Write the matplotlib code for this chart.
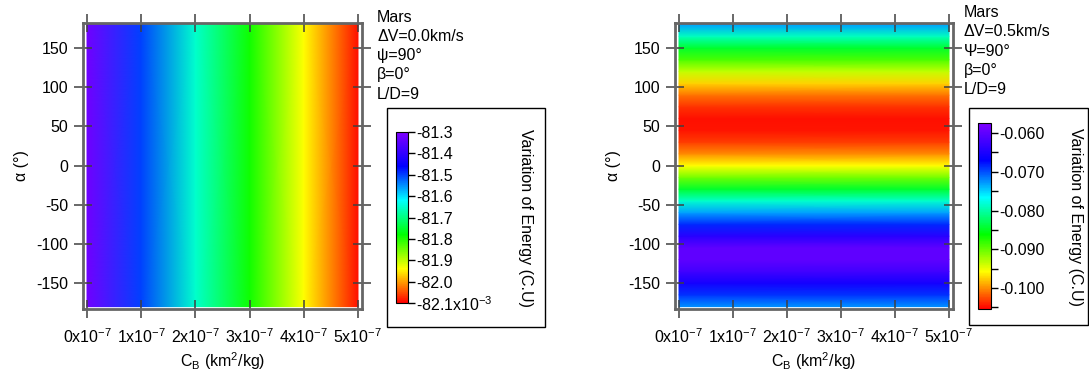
import numpy as np
import matplotlib
matplotlib.use("Agg")
import matplotlib.pyplot as plt
from matplotlib.colors import LinearSegmentedColormap, Normalize
from matplotlib.patches import Rectangle
import matplotlib.cm as cm

plt.rcParams['font.family'] = ['Liberation Sans', 'DejaVu Sans']
plt.rcParams['mathtext.default'] = 'regular'
plt.rcParams['axes.unicode_minus'] = False
FS = 11.5

# === DATA ===
cb_ticks = [0, 1e-7, 2e-7, 3e-7, 4e-7, 5e-7]
cb_tick_labels = [r'0x10$^{-7}$', r'1x10$^{-7}$', r'2x10$^{-7}$',
                  r'3x10$^{-7}$', r'4x10$^{-7}$', r'5x10$^{-7}$']
alpha_ticks = [-150, -100, -50, 0, 50, 100, 150]

# left panel: energy (x10^-3 C.U) depends on C_B only
cb_left = [0, 1e-7, 2e-7, 3e-7, 4e-7, 5e-7]
energy_left = [-81.32, -81.50, -81.65, -81.79, -81.94, -82.09]
alpha_left = [-180, 180]

# right panel: energy (C.U) depends on alpha only
cb_right = [0, 5e-7]
alpha_right = [-180, -165, -150, -135, -120, -105, -90, -75, -60, -45, -30, -15,
               0, 15, 30, 45, 60, 75, 90, 105, 120, 135, 150, 165, 180]
energy_right = [-0.0725, -0.0690, -0.0655, -0.0622, -0.0600, -0.0600, -0.0640,
                -0.0685, -0.0730, -0.0785, -0.0845, -0.0905, -0.0958, -0.1000,
                -0.1030, -0.1045, -0.1048, -0.1035, -0.1010, -0.0975, -0.0935,
                -0.0890, -0.0845, -0.0790, -0.0730]

left_cbar_ticks = [-81.3, -81.4, -81.5, -81.6, -81.7, -81.8, -81.9, -82.0, -82.1]
left_cbar_labels = ['-81.3', '-81.4', '-81.5', '-81.6', '-81.7', '-81.8', '-81.9',
                    '-82.0', r'-82.1x10$^{-3}$']
right_cbar_ticks = [-0.060, -0.070, -0.080, -0.090, -0.100]
right_cbar_labels = ['-0.060', '-0.070', '-0.080', '-0.090', '-0.100']
right_cbar_minor = [-0.065, -0.075, -0.085, -0.095, -0.105]

left_info = ['Mars', '\u0394V=0.0km/s', '\u03c8=90\u00b0', '\u03b2=0\u00b0', 'L/D=9']
right_info = ['Mars', '\u0394V=0.5km/s', '\u03a8=90\u00b0', '\u03b2=0\u00b0', 'L/D=9']

# Igor-like rainbow: red (low) -> purple (high)
rainbow = LinearSegmentedColormap.from_list('igor_rainbow', [
    (0.0, (1, 0, 0)), (0.1, (1, 0.5, 0)), (0.2, (1, 1, 0)), (0.4, (0, 1, 0)),
    (0.6, (0, 1, 1)), (0.8, (0, 0, 1)), (1.0, (0.5, 0, 1))])

W, H = 1089, 383
fig = plt.figure(figsize=(W / 100, H / 100), dpi=100)


def fx(px):
    return px / W


def fy(py):
    return 1 - py / H


def panel(x0, x1, X, Y, Z, vmin, vmax):
    ax = fig.add_axes([fx(x0), fy(309), fx(x1 - x0), (309 - 23) / H])
    ax.pcolormesh(X, Y, Z, cmap=rainbow, vmin=vmin, vmax=vmax, shading='gouraud')
    ax.set_xlim(-0.074e-7, 5.074e-7)
    ax.set_ylim(-183, 182)
    ax.set_xticks(cb_ticks)
    ax.set_xticklabels(cb_tick_labels)
    ax.set_yticks(alpha_ticks)
    ax.tick_params(direction='inout', length=13, width=1.1, color='0.25',
                   top=True, right=True, labelsize=FS)
    ax.tick_params(axis='x', pad=7)
    ax.tick_params(axis='y', pad=4)
    for s in ax.spines.values():
        s.set_color('0.4')
        s.set_linewidth(2)
    ax.set_xlabel(r'C$_B$ (km$^2$/kg)', fontsize=FS, labelpad=3)
    ax.set_ylabel('\u03b1 (\u00b0)', fontsize=FS, labelpad=5)
    return ax


# left panel
Xl, Yl = np.meshgrid(cb_left, alpha_left)
Zl = np.tile(energy_left, (len(alpha_left), 1))
panel(83, 362, Xl, Yl, Zl, -82.1, -81.3)

# right panel
Xr, Yr = np.meshgrid(cb_right, alpha_right)
Zr = np.tile(np.array(energy_right)[:, None], (1, len(cb_right)))
panel(675, 953, Xr, Yr, Zr, -0.1054, -0.0574)

# info text
for i, t in enumerate(left_info):
    fig.text(fx(377), fy(17 + i * 19.3), t, fontsize=FS, va='center', ha='left')
for i, t in enumerate(right_info):
    fig.text(fx(964), fy(12.5 + i * 19.3), t, fontsize=FS, va='center', ha='left')

# legend boxes
fig.patches.append(Rectangle((fx(387), fy(327)), fx(545 - 387), (327 - 108) / H,
                             transform=fig.transFigure, fill=False, ec='black', lw=1))
fig.patches.append(Rectangle((fx(969), fy(325)), fx(1087.5 - 969), (325 - 108) / H,
                             transform=fig.transFigure, fill=False, ec='black', lw=1))

# colorbars
cax1 = fig.add_axes([fx(396), fy(303), fx(12), (303 - 132) / H])
cb1 = fig.colorbar(cm.ScalarMappable(Normalize(-82.1, -81.3), rainbow), cax=cax1)
cb1.set_ticks(left_cbar_ticks)
cb1.set_ticklabels(left_cbar_labels)
cb1.outline.set_linewidth(0.8)
cax1.tick_params(length=5, width=1, pad=1, labelsize=FS)
cax1.minorticks_off()

cax2 = fig.add_axes([fx(978), fy(309), fx(13), (309 - 123) / H])
cb2 = fig.colorbar(cm.ScalarMappable(Normalize(-0.1054, -0.0574), rainbow), cax=cax2)
cb2.set_ticks(right_cbar_ticks)
cb2.set_ticklabels(right_cbar_labels)
cax2.set_yticks(right_cbar_minor, minor=True)
cb2.outline.set_linewidth(0.8)
cax2.tick_params(which='major', length=5, width=1, pad=1, labelsize=FS)
cax2.tick_params(which='minor', length=5, width=1)

fig.text(fx(526), fy(218), 'Variation of Energy (C.U)', rotation=270,
         fontsize=FS, ha='center', va='center')
fig.text(fx(1075), fy(217), 'Variation of Energy (C.U)', rotation=270,
         fontsize=FS, ha='center', va='center')

fig.savefig('out.png', dpi=100)
